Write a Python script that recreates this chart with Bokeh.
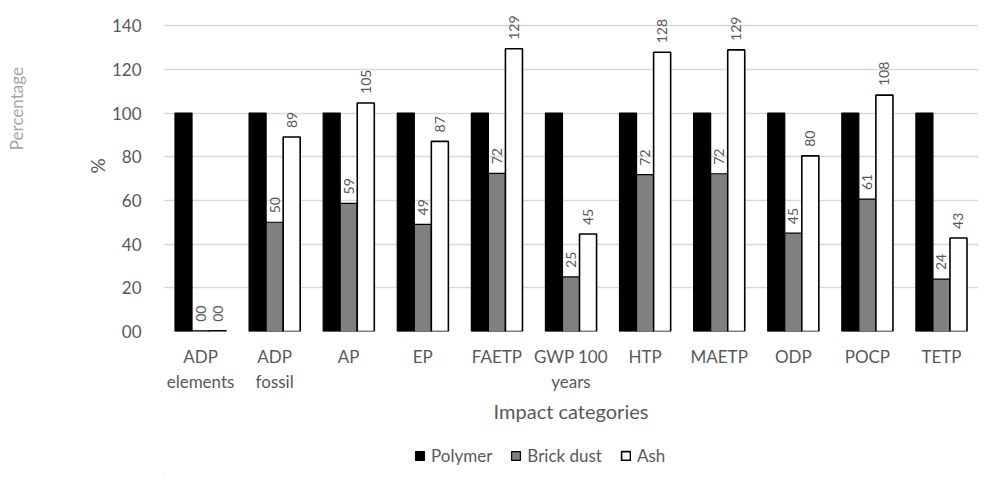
from bokeh.plotting import figure
from bokeh.layouts import column
from bokeh.models import (ColumnDataSource, FixedTicker, Legend, LegendItem,
                          LinearAxis, Range1d)
from bokeh.core.properties import value
from bokeh.embed import file_html
from bokeh.resources import INLINE

categories = ["ADP\nelements", "ADP\nfossil", "AP", "EP", "FAETP", "GWP 100\nyears",
              "HTP", "MAETP", "ODP", "POCP", "TETP"]
polymer = [100, 100, 100, 100, 100, 100, 100, 100, 100, 100, 100]
brick_dust = [0.3, 50, 58.6, 49, 72.4, 25, 71.8, 72.2, 45, 60.6, 24]
ash = [0.3, 89, 104.6, 87, 129.4, 44.6, 127.8, 128.9, 80.4, 108.2, 42.8]
y_ticks = [0, 20, 40, 60, 80, 100, 120, 140]
series = ["Polymer", "Brick dust", "Ash"]

FONT = "Lato"
GREY = "#595959"
FILLS = ["black", "#808080", "white"]
LWS = [1.2, 1.2, 1.6]

n = len(categories)
centers = [i + 0.5 for i in range(n)]
bw = 0.23

p = figure(width=981, height=438, output_backend="svg", toolbar_location=None,
           x_range=Range1d(0, n), y_range=Range1d(0, 151.5),
           min_border_left=163, min_border_right=3, min_border_top=0,
           min_border_bottom=107)
p.outline_line_color = None

src_p = ColumnDataSource(dict(x=[c - bw for c in centers], top=polymer))
src_b = ColumnDataSource(dict(x=centers, top=brick_dust,
                              lab=["{:02.0f}".format(v) for v in brick_dust]))
src_a = ColumnDataSource(dict(x=[c + bw for c in centers], top=ash,
                              lab=["{:02.0f}".format(v) for v in ash]))

for src, fc, lw in zip((src_p, src_b, src_a), FILLS, LWS):
    p.vbar(x="x", top="top", width=bw, bottom=0, source=src,
           fill_color=fc, line_color="black", line_width=lw)

for src in (src_b, src_a):
    p.text(x="x", y="top", text="lab", source=src, angle=1.5708,
           text_align="left", text_baseline="middle", y_offset=-9,
           text_font=value(FONT), text_font_size="14px", text_color=GREY)

p.xgrid.grid_line_color = None
p.ygrid.grid_line_color = "#d9d9d9"
p.ygrid.grid_line_width = 1.3

p.xaxis.ticker = FixedTicker(ticks=centers)
p.xaxis.major_label_overrides = {c: lab for c, lab in zip(centers, categories)}
p.xaxis.axis_line_color = None
p.xaxis.major_tick_line_color = None
p.xaxis.minor_tick_line_color = None
p.xaxis.major_label_standoff = 8
p.xaxis.major_label_text_font = FONT
p.xaxis.major_label_text_font_size = "17px"
p.xaxis.major_label_text_color = GREY
p.xaxis.axis_label = "Impact categories"
p.xaxis.axis_label_text_font = FONT
p.xaxis.axis_label_text_font_size = "20px"
p.xaxis.axis_label_text_font_style = "normal"
p.xaxis.axis_label_text_color = GREY
p.xaxis.axis_label_standoff = 4

p.yaxis.ticker = FixedTicker(ticks=y_ticks)
p.yaxis.major_label_overrides = {t: "{:02d}".format(t) for t in y_ticks}
p.yaxis.axis_line_color = None
p.yaxis.major_tick_line_color = None
p.yaxis.minor_tick_line_color = None
p.yaxis.major_label_standoff = 16
p.yaxis.major_label_text_font = FONT
p.yaxis.major_label_text_font_size = "17px"
p.yaxis.major_label_text_color = GREY
p.yaxis.axis_label = "%"
p.yaxis.axis_label_text_font = FONT
p.yaxis.axis_label_text_font_size = "19px"
p.yaxis.axis_label_text_font_style = "normal"
p.yaxis.axis_label_text_color = GREY
p.yaxis.axis_label_standoff = 0

outer = LinearAxis(ticker=FixedTicker(ticks=[]),
                   axis_label="\u2003" * 9 + "Percentage", axis_label_standoff=56,
                   axis_label_text_font=FONT, axis_label_text_font_size="17px",
                   axis_label_text_font_style="normal",
                   axis_label_text_color="#a6a6a6",
                   axis_line_color=None, major_tick_line_color=None,
                   minor_tick_line_color=None, major_label_text_font_size="0px")
p.add_layout(outer, "left")

# legend strip
lf = figure(width=981, height=40, output_backend="svg", toolbar_location=None,
            x_axis_type=None, y_axis_type=None, x_range=Range1d(0, 1),
            y_range=Range1d(0, 1), min_border=0)
lf.outline_line_color = None
lf.grid.visible = False
items = []
for name, fc, lw in zip(series, FILLS, LWS):
    r = lf.vbar(x=[-5], top=[-5], bottom=[-6], width=0.1, fill_color=fc,
                line_color="black", line_width=lw)
    items.append(LegendItem(label=name, renderers=[r]))
legend = Legend(items=items, orientation="horizontal", location=(251, 12),
                label_text_font=FONT, label_text_font_size="17px",
                label_text_color=GREY, glyph_width=11, glyph_height=11,
                spacing=18, label_standoff=6, padding=0, margin=0,
                border_line_color=None, background_fill_alpha=0)
lf.add_layout(legend, "center")

open("out.html", "w").write(file_html(column(p, lf, spacing=0), INLINE))
